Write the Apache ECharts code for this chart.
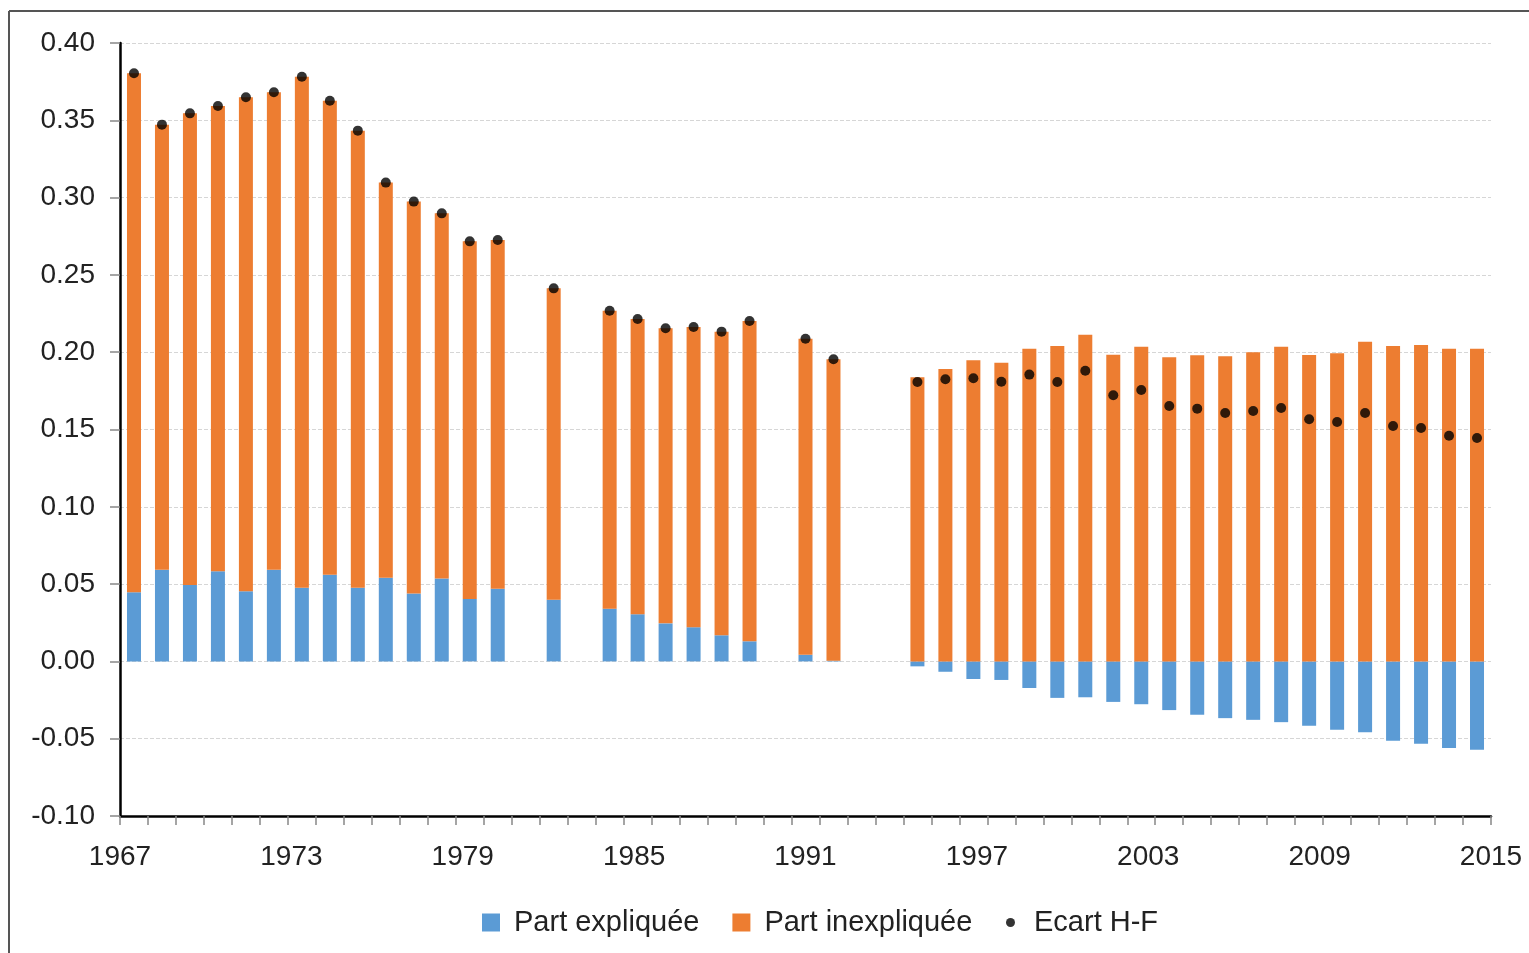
<!DOCTYPE html>
<html>
<head>
<meta charset="utf-8">
<script src="https://cdn.jsdelivr.net/npm/echarts@6/dist/echarts.min.js"></script>
<style>
html,body{margin:0;padding:0;background:#fff;}
#c{width:1529px;height:953px;}
</style>
</head>
<body>
<div id="c"></div>
<script>
// Years 1967..2015 (one slot per year; null = no survey that year)
const years = [];
for (let y = 1967; y <= 2015; y++) years.push(String(y));

const xTickLabels = ['1967','1973','1979','1985','1991','1997','2003','2009','2015'];

// Part expliquée (blue)
const partExpliquee = [
  0.0447, 0.0593, 0.0494, 0.0583, 0.0453, 0.0593, 0.0477, 0.0561, 0.0477, 0.0541, 0.0440, 0.0537, 0.0404, 0.0470,
  null, 0.0399, null,
  0.0341, 0.0305, 0.0246, 0.0221, 0.0169, 0.0130,
  null, 0.0043, 0.0005, null, null,
  -0.0032, -0.0067, -0.0114, -0.0120, -0.0172, -0.0236, -0.0232, -0.0262, -0.0277, -0.0315,
  -0.0345, -0.0367, -0.0378, -0.0393, -0.0416, -0.0442, -0.0459, -0.0513, -0.0532, -0.0560, -0.0571
];

// Part inexpliquée (orange)
const partInexpliquee = [
  0.3357, 0.2879, 0.3051, 0.3010, 0.3196, 0.3088, 0.3305, 0.3066, 0.2956, 0.2556, 0.2534, 0.2361, 0.2313, 0.2256,
  null, 0.2014, null,
  0.1927, 0.1910, 0.1909, 0.1942, 0.1964, 0.2072,
  null, 0.2044, 0.1949, null, null,
  0.1838, 0.1891, 0.1948, 0.1932, 0.2023, 0.2040, 0.2113, 0.1984, 0.2036, 0.1967,
  0.1980, 0.1973, 0.1999, 0.2036, 0.1982, 0.1993, 0.2068, 0.2040, 0.2047, 0.2023, 0.2023
];

// Ecart H-F (black dots)
const ecartHF = [
  0.3804, 0.3472, 0.3545, 0.3593, 0.3649, 0.3681, 0.3782, 0.3627, 0.3433, 0.3097, 0.2974, 0.2898, 0.2717, 0.2726,
  null, 0.2413, null,
  0.2268, 0.2215, 0.2155, 0.2163, 0.2133, 0.2202,
  null, 0.2087, 0.1954, null, null,
  0.1807, 0.1825, 0.1831, 0.1809, 0.1855, 0.1807, 0.1880, 0.1721, 0.1755, 0.1652,
  0.1635, 0.1607, 0.1620, 0.1639, 0.1566, 0.1549, 0.1607, 0.1523, 0.1510, 0.1460, 0.1445
];

const FONT = '"Liberation Sans", Arial, Helvetica, sans-serif';
const chart = echarts.init(document.getElementById('c'), null, {renderer: 'canvas'});

chart.setOption({
  animation: false,
  backgroundColor: '#fff',
  textStyle: {fontFamily: FONT},
  graphic: [
    {type: 'line', shape: {x1: 9, y1: 11, x2: 1529, y2: 11}, style: {stroke: '#555', lineWidth: 2}, silent: true},
    {type: 'line', shape: {x1: 9, y1: 11, x2: 9, y2: 953}, style: {stroke: '#555', lineWidth: 2}, silent: true}
  ],
  grid: {left: 120, right: 38, top: 43, bottom: 137, containLabel: false},
  legend: [
    {
      left: 477, top: 903,
      itemWidth: 18, itemHeight: 18, itemGap: 33,
      icon: 'rect',
      textStyle: {fontSize: 29, color: '#222', fontFamily: FONT, padding: [0, 0, 0, 9]},
      data: ['Part expliquée', 'Part inexpliquée']
    },
    {
      left: 1001, top: 903,
      itemWidth: 9, itemHeight: 9,
      icon: 'circle',
      textStyle: {fontSize: 29, color: '#222', fontFamily: FONT, padding: [0, 0, 0, 14]},
      data: ['Ecart H-F']
    }
  ],
  xAxis: [
    {
      type: 'category',
      data: years,
      position: 'bottom',
      boundaryGap: true,
      axisLine: {onZero: false, lineStyle: {color: '#000', width: 2.5}},
      axisTick: {show: true, interval: 0, length: 9, lineStyle: {color: '#888', width: 1.5}},
      axisLabel: {show: false},
      splitLine: {show: false}
    },
    {
      type: 'value',
      min: 0, max: 8, interval: 1,
      position: 'bottom',
      axisLine: {show: false},
      axisTick: {show: false},
      splitLine: {show: false},
      axisLabel: {
        show: true, margin: 27, fontSize: 28, color: '#222', fontFamily: FONT,
        formatter: function (v) { return xTickLabels[Math.round(v)] || ''; }
      }
    }
  ],
  yAxis: {
    type: 'value',
    min: -0.1, max: 0.4, interval: 0.05,
    axisLine: {show: true, lineStyle: {color: '#000', width: 2.5}},
    axisTick: {show: true, inside: false, length: 10, lineStyle: {color: '#888', width: 1.5}},
    axisLabel: {
      margin: 25, fontSize: 28, color: '#222', fontFamily: FONT,
      formatter: function (v) { return v.toFixed(2); }
    },
    splitLine: {show: true, lineStyle: {color: '#d6d6d6', width: 1, type: [4, 2]}}
  },
  series: [
    {
      name: 'Part expliquée',
      type: 'bar',
      stack: 'tot',
      xAxisIndex: 0,
      barWidth: 14,
      itemStyle: {color: '#5b9bd5'},
      data: partExpliquee
    },
    {
      name: 'Part inexpliquée',
      type: 'bar',
      stack: 'tot',
      xAxisIndex: 0,
      barWidth: 14,
      itemStyle: {color: '#ed7d31'},
      data: partInexpliquee
    },
    {
      name: 'Ecart H-F',
      type: 'scatter',
      xAxisIndex: 0,
      symbol: 'circle',
      symbolSize: 10,
      z: 5,
      itemStyle: {color: '#000'},
      data: ecartHF
    }
  ]
});
</script>
</body>
</html>
